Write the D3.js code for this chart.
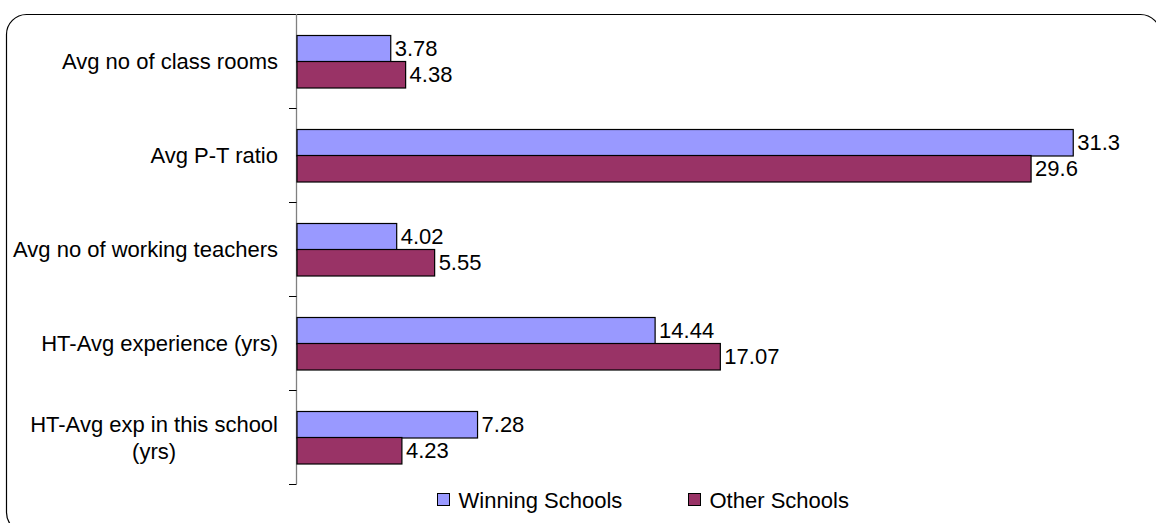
<!DOCTYPE html>
<html>
<head>
<meta charset="utf-8">
<script src="https://cdn.jsdelivr.net/npm/d3@7"></script>
<style>
  html, body { margin: 0; padding: 0; background: #fff; }
  svg { display: block; font-family: "Liberation Sans", Arial, sans-serif; }
</style>
</head>
<body>
<svg id="chart" width="1156" height="523"></svg>
<script>
// School indicators: winning vs other schools
const categories = [
  "Avg no of class rooms",
  "Avg P-T ratio",
  "Avg no of working teachers",
  "HT-Avg experience (yrs)",
  "HT-Avg exp in this school (yrs)"
];
const winningSchools = [3.78, 31.3, 4.02, 14.44, 7.28];
const otherSchools   = [4.38, 29.6, 5.55, 17.07, 4.23];
const seriesNames  = ["Winning Schools", "Other Schools"];
const seriesColors = ["#9999FF", "#993366"];

const FONT = 22;
const svg = d3.select("#chart");

// Rounded outer frame (runs past the right and bottom edges)
svg.append("rect")
  .attr("x", 6.5).attr("y", 14.5)
  .attr("width", 1154).attr("height", 518)
  .attr("rx", 20).attr("ry", 20)
  .attr("fill", "#fff").attr("stroke", "#000").attr("stroke-width", 1.2);

const plot = { left: 297, top: 14, bottom: 484 };

const x = d3.scaleLinear().domain([0, 35]).range([plot.left, plot.left + 24.8 * 35]);
const y = d3.scaleBand().domain(categories).range([plot.top, plot.bottom]);
const inner = d3.scaleBand().domain(seriesNames).range([0, 53]);
const barOffset = (y.bandwidth() - 53) / 2;

// Category axis with ticks between categories
const axisG = svg.append("g").attr("transform", `translate(${plot.left},0)`);
axisG.append("line")
  .attr("x1", -0.5).attr("x2", -0.5)
  .attr("y1", plot.top).attr("y2", plot.bottom)
  .attr("stroke", "#808080").attr("stroke-width", 1.3);
const tickYs = d3.range(categories.length + 1).map(i => plot.top + i * y.step());
axisG.selectAll("line.tick").data(tickYs.slice(1)).join("line")
  .attr("class", "tick")
  .attr("x1", -8).attr("x2", -0.5)
  .attr("y1", d => Math.round(d) + 0.5).attr("y2", d => Math.round(d) + 0.5)
  .attr("stroke", "#000").attr("stroke-width", 1);

// Category labels
const labelRight = 278;
categories.forEach(cat => {
  const cy = y(cat) + y.bandwidth() / 2;
  const words = cat.split(" ");
  const t = svg.append("text")
    .attr("font-size", FONT).attr("fill", "#000")
    .attr("text-anchor", "end")
    .attr("x", labelRight).attr("y", cy).attr("dy", "0.35em")
    .text(cat);
  if (t.node().getComputedTextLength() > 272) {
    // wrap onto two centred lines
    t.remove();
    const line1 = words.slice(0, -1).join(" ");
    const line2 = words[words.length - 1];
    const probe = svg.append("text").attr("font-size", FONT).text(line1);
    const w = probe.node().getComputedTextLength();
    probe.remove();
    const cx = labelRight - w / 2;
    const g = svg.append("text").attr("font-size", FONT).attr("fill", "#000")
      .attr("text-anchor", "middle");
    g.append("tspan").attr("x", cx).attr("y", cy - 13).attr("dy", "0.35em").text(line1);
    g.append("tspan").attr("x", cx).attr("y", cy + 14).attr("dy", "0.35em").text(line2);
  }
});

// Bars and value labels
const series = [winningSchools, otherSchools];
series.forEach((vals, si) => {
  const name = seriesNames[si];
  const g = svg.append("g");
  g.selectAll("rect").data(vals).join("rect")
    .attr("x", x(0))
    .attr("y", (d, i) => Math.round(y(categories[i]) + barOffset + inner(name)) + 0.5)
    .attr("width", d => x(d) - x(0))
    .attr("height", inner.bandwidth())
    .attr("fill", seriesColors[si])
    .attr("stroke", "#000").attr("stroke-width", 1.2);
  g.selectAll("text").data(vals).join("text")
    .attr("x", d => x(d) + 4)
    .attr("y", (d, i) => y(categories[i]) + barOffset + inner(name) + inner.bandwidth() / 2 + 0.5)
    .attr("dy", "0.35em")
    .attr("font-size", FONT).attr("fill", "#000")
    .text(d => d);
});

// Legend
const legendX = [437.5, 688.5];
const legend = svg.append("g");
seriesNames.forEach((name, i) => {
  legend.append("rect")
    .attr("x", legendX[i]).attr("y", 493.5)
    .attr("width", 12).attr("height", 12)
    .attr("fill", seriesColors[i]).attr("stroke", "#000").attr("stroke-width", 1);
  legend.append("text")
    .attr("x", legendX[i] + 21).attr("y", 500).attr("dy", "0.35em")
    .attr("font-size", FONT).attr("fill", "#000")
    .text(name);
});
</script>
</body>
</html>
